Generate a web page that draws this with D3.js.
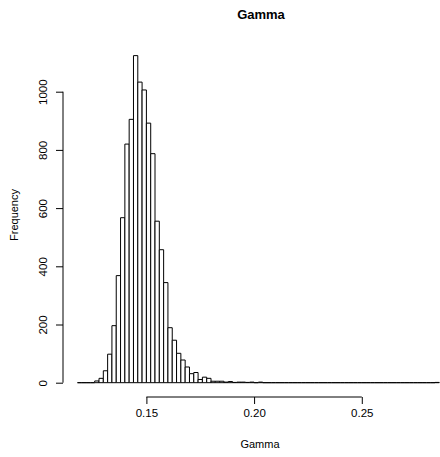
<!DOCTYPE html>
<html>
<head>
<meta charset="utf-8">
<script src="https://cdn.jsdelivr.net/npm/d3@7"></script>
<style>
  body { margin: 0; background: #fff; }
  text { font-family: "Liberation Sans", Arial, sans-serif; fill: #000; }
</style>
</head>
<body>
<script>
// histogram of Gamma, breaks every 0.002 from 0.118 to 0.286
var breakStart = 0.118;
var binWidth = 0.002;
var counts = [
  0, 0, 0, 0, 6, 15, 41, 98, 196, 368,
  567, 820, 905, 1124, 1033, 1006, 892, 787, 555, 457,
  344, 189, 146, 101, 78, 54, 31, 35, 11, 19,
  15, 5, 5, 5, 2, 4, 1, 2, 2, 1,
  2, 0, 2, 0, 0, 0, 0, 0, 0, 0,
  0, 0, 0, 0, 0, 0, 0, 0, 0, 0,
  0, 0, 0, 0, 0, 0, 0, 0, 0, 0,
  0, 0, 0, 0, 0, 0, 0, 0, 0, 0,
  0, 0, 0, 1
];
var xTicks = [0.15, 0.20, 0.25];
var yTicks = [0, 200, 400, 600, 800, 1000];
var mainTitle = "Gamma";
var xTitle = "Gamma";
var yTitle = "Frequency";

var width = 440, height = 457;

var bins = counts.map(function(c, i) {
  return { x0: breakStart + i * binWidth, x1: breakStart + (i + 1) * binWidth, count: c };
});
var breakEnd = bins[bins.length - 1].x1;
var pad = (breakEnd - breakStart) * 0.04;

var svg = d3.select("body").append("svg")
  .attr("width", width)
  .attr("height", height);

svg.append("rect").attr("width", width).attr("height", height).style("fill", "#fff");

var x = d3.scaleLinear()
  .domain([breakStart - pad, breakEnd + pad])
  .range([63, 453.8]);

var y = d3.scaleLinear()
  .domain([0, 1000])
  .range([382.7, 91.7]);

// bars
var barGroup = svg.append("g").attr("id", "bars");
barGroup.selectAll("path")
  .data(bins)
  .enter()
  .append("path")
  .attr("d", function(d) {
    var xa = x(d.x0), xb = x(d.x1), y0 = y(0), y1 = y(d.count);
    return "M" + xa + "," + y0 + "V" + y1 + "H" + xb + "V" + y0 + "Z";
  })
  .style("fill", "#fff")
  .style("stroke", "#000")
  .style("stroke-width", 1);

// x axis
var xAxis = d3.axisBottom(x)
  .tickValues(xTicks)
  .tickFormat(d3.format(".2f"))
  .tickSize(7)
  .tickSizeOuter(0);

var gx = svg.append("g")
  .attr("transform", "translate(0,397)")
  .call(xAxis);
gx.select(".domain").remove();
gx.append("line")
  .attr("x1", x(xTicks[0])).attr("x2", x(xTicks[xTicks.length - 1]))
  .attr("y1", 0).attr("y2", 0)
  .style("stroke", "#000");
gx.selectAll(".tick text")
  .attr("y", 20)
  .attr("dy", 0)
  .style("font-size", "11.5px");

// y axis
var yAxis = d3.axisLeft(y)
  .tickValues(yTicks)
  .tickSize(7)
  .tickFormat(d3.format("d"));

var gy = svg.append("g")
  .attr("transform", "translate(63,0)")
  .call(yAxis);
gy.select(".domain").remove();
gy.append("line")
  .attr("x1", 0).attr("x2", 0)
  .attr("y1", y(0)).attr("y2", y(1000))
  .style("stroke", "#000");
gy.selectAll(".tick text")
  .attr("x", 0).attr("dy", 0)
  .attr("text-anchor", "middle")
  .attr("transform", "translate(-16,0) rotate(-90)")
  .style("font-size", "11.5px");

// titles
svg.append("text")
  .attr("x", 261).attr("y", 19)
  .attr("text-anchor", "middle")
  .style("font-weight", "bold")
  .style("font-size", "13px")
  .text(mainTitle);

svg.append("text")
  .attr("x", 260).attr("y", 448)
  .attr("text-anchor", "middle")
  .style("font-size", "11px")
  .text(xTitle);

svg.append("text")
  .attr("transform", "translate(18,215) rotate(-90)")
  .attr("text-anchor", "middle")
  .style("font-size", "11px")
  .text(yTitle);
</script>
</body>
</html>
